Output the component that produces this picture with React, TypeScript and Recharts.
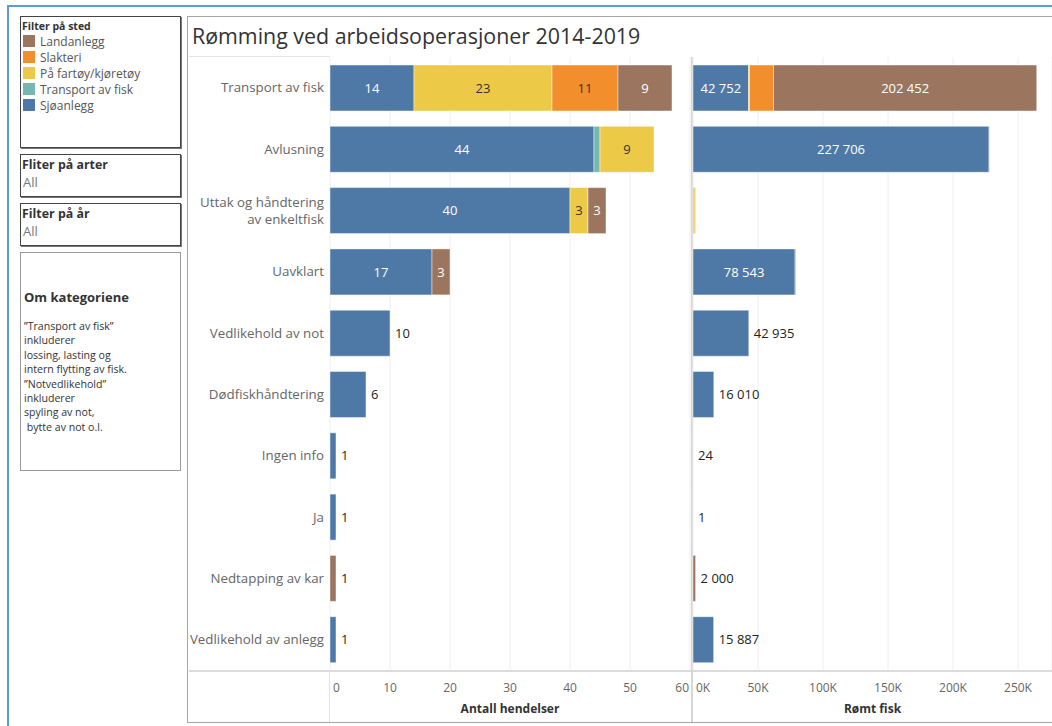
import React from 'react';
import { BarChart, Bar, XAxis, YAxis, CartesianGrid, LabelList, Label } from 'recharts';

// ---------- data ----------
const categories = [
  'Transport av fisk',
  'Avlusning',
  'Uttak og håndtering av enkeltfisk',
  'Uavklart',
  'Vedlikehold av not',
  'Dødfiskhåndtering',
  'Ingen info',
  'Ja',
  'Nedtapping av kar',
  'Vedlikehold av anlegg',
];

// Antall hendelser (count of incidents) per location type
const countSjoanlegg = [14, 44, 40, 17, 10, 6, 1, 1, 0, 1];
const countTransport = [0, 1, 0, 0, 0, 0, 0, 0, 0, 0];
const countFartoy = [23, 9, 3, 0, 0, 0, 0, 0, 0, 0];
const countSlakteri = [11, 0, 0, 0, 0, 0, 0, 0, 0, 0];
const countLandanlegg = [9, 0, 3, 3, 0, 0, 0, 0, 1, 0];

// Rømt fisk (escaped fish) per location type
const fishSjoanlegg = [42752, 227706, 0, 78543, 42935, 16010, 24, 1, 0, 15887];
const fishTransport = [0, 0, 0, 0, 0, 0, 0, 0, 0, 0];
const fishFartoy = [700, 600, 1700, 0, 0, 0, 0, 0, 0, 0];
const fishSlakteri = [18500, 0, 0, 0, 0, 0, 0, 0, 0, 0];
const fishLandanlegg = [202452, 0, 300, 500, 0, 0, 0, 0, 2000, 0];

const countTicks = [0, 10, 20, 30, 40, 50, 60];
const fishTicks = [0, 50000, 100000, 150000, 200000, 250000];

const infoLines = [
  '\u201DTransport av fisk\u201D',
  'inkluderer',
  'lossing, lasting og',
  'intern flytting av fisk.',
  '\u201DNotvedlikehold\u201D',
  'inkluderer',
  'spyling av not,',
  '\u00A0bytte av not o.l.',
];

// ---------- styling ----------
const FONT = '"Open Sans", "Noto Sans", sans-serif';

const SERIES = [
  { key: 'sjo', name: 'Sjøanlegg', color: '#4e79a7', text: '#ffffff' },
  { key: 'transport', name: 'Transport av fisk', color: '#76b7b2', text: '#ffffff' },
  { key: 'fartoy', name: 'På fartøy/kjøretøy', color: '#edc948', text: '#333333' },
  { key: 'slakteri', name: 'Slakteri', color: '#f28e2b', text: '#333333' },
  { key: 'land', name: 'Landanlegg', color: '#9c755f', text: '#ffffff' },
];

const countSeries = [countSjoanlegg, countTransport, countFartoy, countSlakteri, countLandanlegg];
const fishSeries = [fishSjoanlegg, fishTransport, fishFartoy, fishSlakteri, fishLandanlegg];

const buildRows = (series: number[][]) =>
  categories.map((cat, i) => {
    const row: any = { cat };
    SERIES.forEach((s, k) => {
      row[s.key] = series[k][i];
    });
    return row;
  });

const countData = buildRows(countSeries);
const fishData = buildRows(fishSeries);

const fmtNum = (v: number) => String(v).replace(/\B(?=(\d{3})+(?!\d))/g, ' ');

function makeLabel(series: number[][], k: number) {
  return (props: any) => {
    const idx = categories.indexOf(props.value);
    if (idx < 0) return null;
    const vals = series.map((arr) => arr[idx]);
    const v = vals[k];
    if (!v) return null;
    const vb = props.viewBox || {};
    const x = props.x ?? vb.x;
    const y = props.y ?? vb.y;
    const w = props.width ?? vb.width;
    const h = props.height ?? vb.height;
    const nonzero = vals.filter((a) => a > 0).length;
    const text = fmtNum(v);
    if (nonzero > 1) {
      const tw = text.length * 7.4;
      if (w < tw + 6) return null;
      return (
        <text
          x={x + w / 2}
          y={y + h / 2}
          dy="0.36em"
          textAnchor="middle"
          fill={SERIES[k].text}
          fontSize={13}
          fontFamily={FONT}
        >
          {text}
        </text>
      );
    }
    return (
      <text x={x + w + 5} y={y + h / 2} dy="0.36em" textAnchor="start" fill="#222" fontSize={13} fontFamily={FONT}>
        {text}
      </text>
    );
  };
}

const CatTick = (props: any) => {
  const { x, y, payload } = props;
  const words = String(payload.value).split(' ');
  const lines: string[] = [];
  if (String(payload.value).length > 24) {
    let cur = '';
    words.forEach((wd) => {
      const next = cur ? cur + ' ' + wd : wd;
      if (next.length > 20 && cur) {
        lines.push(cur);
        cur = wd;
      } else cur = next;
    });
    if (cur) lines.push(cur);
  } else lines.push(String(payload.value));
  const lh = 17;
  const start = y - ((lines.length - 1) * lh) / 2;
  return (
    <text textAnchor="end" fill="#666" fontSize={13.3} fontFamily={FONT}>
      {lines.map((l, i) => (
        <tspan key={i} x={x} y={start + i * lh} dy="0.36em">
          {l}
        </tspan>
      ))}
    </text>
  );
};

const makeXTick = (firstVal: number, lastVal: number | null, fmt: (v: number) => string) => (props: any) => {
  const { x, y, payload } = props;
  const v = payload.value;
  let anchor: 'start' | 'middle' | 'end' = 'middle';
  let tx = x;
  if (v === firstVal) {
    anchor = 'start';
    tx = x + 3;
  } else if (lastVal !== null && v === lastVal) {
    anchor = 'end';
    tx = x - 1;
  }
  return (
    <text x={tx} y={y + 16} dy="0.36em" textAnchor={anchor} fill="#666" fontSize={12} fontFamily={FONT}>
      {fmt(v)}
    </text>
  );
};

const box = (l: number, t: number, w: number, h: number, border: string, extra: any = {}) => ({
  position: 'absolute' as const,
  left: l,
  top: t,
  width: w,
  height: h,
  border,
  boxSizing: 'border-box' as const,
  ...extra,
});

export default function App() {
  const legendItems = [...SERIES].reverse();
  return (
    <div
      style={{
        position: 'absolute',
        left: 0,
        top: 0,
        width: 1052,
        height: 726,
        overflow: 'hidden',
        background: '#fff',
        fontFamily: FONT,
      }}
    >
      {/* outer blue frame */}
      <div style={{ position: 'absolute', left: 7, top: 5, width: 1060, height: 2, background: '#5b9bd5' }} />
      <div style={{ position: 'absolute', left: 7, top: 5, width: 2, height: 730, background: '#5b9bd5' }} />

      {/* legend box */}
      <div style={box(20, 16, 161, 132, '1px solid #444', { boxShadow: '1px 1px 0 #777' })}>
        <div style={{ position: 'absolute', left: 1, top: 2, fontSize: 10.5, fontWeight: 700, color: '#333' }}>
          Filter på sted
        </div>
        {legendItems.map((s, i) => (
          <div key={s.key} style={{ position: 'absolute', left: 2, top: 17 + i * 16, height: 14, display: 'flex', alignItems: 'center' }}>
            <div style={{ width: 12, height: 12, background: s.color, marginRight: 5 }} />
            <span style={{ fontSize: 12, color: '#555', whiteSpace: 'nowrap' }}>{s.name}</span>
          </div>
        ))}
      </div>

      {/* filter boxes */}
      <div style={box(20, 154, 161, 43, '1px solid #444', { boxShadow: '1px 1px 0 #777' })}>
        <div style={{ position: 'absolute', left: 1, top: 1, fontSize: 12.4, fontWeight: 700, color: '#333' }}>Fliter på arter</div>
        <div style={{ position: 'absolute', left: 2, top: 18, fontSize: 13, color: '#777' }}>All</div>
      </div>
      <div style={box(20, 203, 161, 43, '1px solid #444', { boxShadow: '1px 1px 0 #777' })}>
        <div style={{ position: 'absolute', left: 1, top: 1, fontSize: 12.4, fontWeight: 700, color: '#333' }}>Filter på år</div>
        <div style={{ position: 'absolute', left: 2, top: 18, fontSize: 13, color: '#777' }}>All</div>
      </div>

      {/* info box */}
      <div style={box(20, 252, 161, 219, '1px solid #999')}>
        <div style={{ position: 'absolute', left: 3, top: 35, fontSize: 13, fontWeight: 700, color: '#333' }}>Om kategoriene</div>
        {infoLines.map((l, i) => (
          <div
            key={i}
            style={{ position: 'absolute', left: 3, top: 66 + i * 14.4, fontSize: 10.6, color: '#333', whiteSpace: 'pre' }}
          >
            {l}
          </div>
        ))}
      </div>

      {/* main chart frame */}
      <div style={box(187, 16, 900, 707, '1.5px solid #a6a6a6')} />
      <div
        style={{
          position: 'absolute',
          left: 192,
          top: 21,
          fontSize: 21.4,
          color: '#333',
          whiteSpace: 'nowrap',
        }}
      >
        Rømming ved arbeidsoperasjoner 2014-2019
      </div>

      {/* separators */}
      <div style={{ position: 'absolute', left: 189, top: 56, width: 141, height: 1, background: '#e4e4e4' }} />
      <div style={{ position: 'absolute', left: 189, top: 670, width: 870, height: 1.5, background: '#dcdcdc' }} />
      <div style={{ position: 'absolute', left: 329, top: 670, width: 1, height: 52, background: '#e0e0e0' }} />

      {/* left chart: Antall hendelser */}
      <div style={{ position: 'absolute', left: 188, top: 57 }}>
        <BarChart
          layout="vertical"
          width={504}
          height={665}
          data={countData}
          margin={{ top: 0, right: 2, bottom: 0, left: 0 }}
          barSize={46}
        >
          <CartesianGrid horizontal={false} stroke="#eeeeee" />
          <XAxis
            type="number"
            domain={[0, 60]}
            ticks={countTicks}
            height={52}
            axisLine={false}
            tickLine={false}
            tickSize={0}
            interval={0}
            tick={makeXTick(0, 60, (v) => String(v))}
          >
            <Label
              value="Antall hendelser"
              position="insideBottom"
              offset={9}
              style={{ fontSize: 12, fontWeight: 700, fill: '#333', fontFamily: FONT }}
            />
          </XAxis>
          <YAxis
            type="category"
            dataKey="cat"
            width={142}
            axisLine={false}
            tickLine={false}
            tickSize={0}
            tickMargin={6}
            interval={0}
            tick={<CatTick />}
          />
          {SERIES.map((s, k) => (
            <Bar
              key={s.key}
              dataKey={s.key}
              stackId="a"
              fill={s.color}
              stroke="#ffffff"
              strokeOpacity={0.45}
              strokeWidth={1}
              isAnimationActive={false}
            >
              <LabelList dataKey="cat" content={makeLabel(countSeries, k)} />
            </Bar>
          ))}
        </BarChart>
      </div>

      {/* divider between panels */}
      <div style={{ position: 'absolute', left: 691, top: 57, width: 1.5, height: 665, background: '#d6d6d6' }} />

      {/* right chart: Rømt fisk */}
      <div style={{ position: 'absolute', left: 692, top: 57 }}>
        <BarChart
          layout="vertical"
          width={360}
          height={665}
          data={fishData}
          margin={{ top: 0, right: 0, bottom: 0, left: 1 }}
          barSize={46}
        >
          <CartesianGrid horizontal={false} stroke="#eeeeee" />
          <XAxis
            type="number"
            domain={[0, 276150]}
            ticks={fishTicks}
            height={52}
            axisLine={false}
            tickLine={false}
            tickSize={0}
            interval={0}
            allowDataOverflow
            tick={makeXTick(0, null, (v) => `${v / 1000}K`)}
          >
            <Label
              value="Rømt fisk"
              position="insideBottom"
              offset={9}
              style={{ fontSize: 12, fontWeight: 700, fill: '#333', fontFamily: FONT }}
            />
          </XAxis>
          <YAxis type="category" dataKey="cat" hide />
          {SERIES.map((s, k) => (
            <Bar
              key={s.key}
              dataKey={s.key}
              stackId="a"
              fill={s.color}
              stroke="#ffffff"
              strokeOpacity={0.45}
              strokeWidth={1}
              isAnimationActive={false}
            >
              <LabelList dataKey="cat" content={makeLabel(fishSeries, k)} />
            </Bar>
          ))}
        </BarChart>
      </div>
    </div>
  );
}
